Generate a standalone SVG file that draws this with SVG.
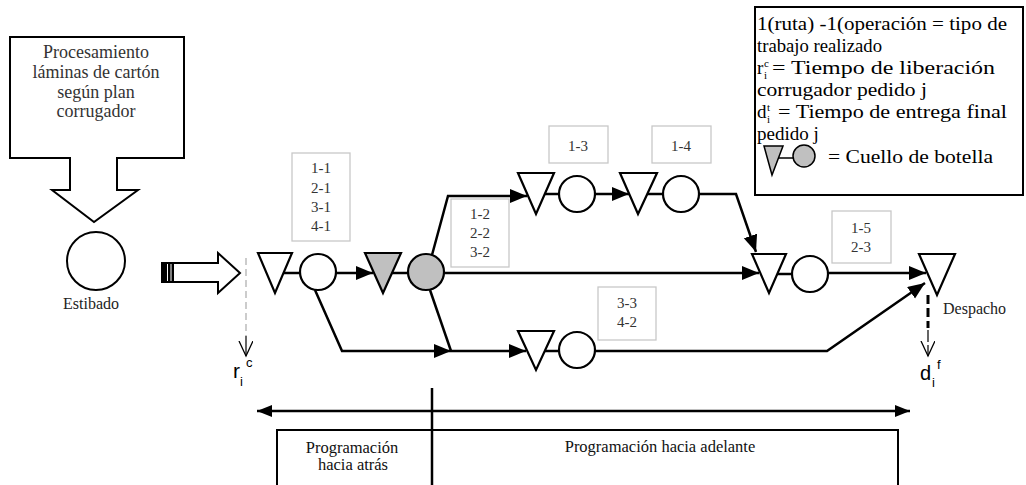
<svg xmlns="http://www.w3.org/2000/svg" width="1026" height="485" viewBox="0 0 1026 485">
  <defs>
    <marker id="ah" markerUnits="userSpaceOnUse" markerWidth="18" markerHeight="16" refX="17" refY="7" orient="auto">
      <path d="M0,0 L17,7 L0,14 z" fill="#000"/>
    </marker>
    <marker id="ahs" markerUnits="userSpaceOnUse" markerWidth="16" markerHeight="14" refX="15" refY="6" orient="auto-start-reverse">
      <path d="M0,0 L15,6 L0,12 z" fill="#000"/>
    </marker>
    <marker id="vopen" markerUnits="userSpaceOnUse" markerWidth="18" markerHeight="18" refX="15" refY="7" orient="auto">
      <path d="M0,0 L15,7 L0,14" fill="none" stroke="#000" stroke-width="1.3"/>
    </marker>
  </defs>
  <style>
    .n{fill:#fff;stroke:#000;stroke-width:2.2}
    .bn{fill:#c0c0c0;stroke:#000;stroke-width:2.2}
    .lbl{fill:#fff;stroke:#c8c8c8;stroke-width:1.3}
    .serif{font-family:"Liberation Serif","Times New Roman",serif}
    .t{font-size:15px;fill:#333;text-anchor:middle}
    .big{font-size:18px;fill:#333;text-anchor:middle}
    .lg{font-size:19px;fill:#000}
    .ls{font-size:11px;fill:#000}
    .sm{font-size:16px;fill:#222}
    .bt{font-size:16.5px;fill:#111;text-anchor:middle}
    .sans{font-family:"Liberation Sans",Arial,sans-serif;fill:#000}
    .c{fill:none;stroke:#000;stroke-width:2.5}
  </style>
  <rect width="1026" height="485" fill="#fff"/>

  <!-- corrugator block with downward arrow -->
  <g id="corrugador">
    <path d="M10,37 H184 V158 H117 V190 H138 L94,222 L52,190 H70 V158 H10 Z" fill="#fff" stroke="#000" stroke-width="2"/>
    <text class="serif big" x="96" y="58">Procesamiento</text>
    <text class="serif big" x="96" y="78">láminas de cartón</text>
    <text class="serif big" x="96" y="98">según plan</text>
    <text class="serif big" x="96" y="117">corrugador</text>
  </g>

  <!-- stacking station -->
  <g id="estibado">
    <circle cx="96" cy="261" r="29" fill="#fff" stroke="#000" stroke-width="2"/>
    <text class="serif sm" x="91" y="309" text-anchor="middle">Estibado</text>
  </g>

  <!-- hollow transfer arrow -->
  <g id="transfer">
    <path d="M162,263 H218 V253 L240,273 L218,293 V282 H162 Z" fill="#fff" stroke="#000" stroke-width="2"/>
    <rect x="162" y="263" width="12" height="19" fill="#000"/>
    <line x1="167.5" y1="264" x2="167.5" y2="281" stroke="#fff" stroke-width="1"/>
    <line x1="171" y1="264" x2="171" y2="281" stroke="#fff" stroke-width="1"/>
  </g>

  <!-- release time marker -->
  <g id="release">
    <line x1="246" y1="258" x2="246" y2="336" stroke="#999" stroke-width="1" stroke-dasharray="7,4"/>
    <line x1="246" y1="336" x2="246" y2="356" stroke="#000" stroke-width="1.2" marker-end="url(#vopen)"/>
    <text class="sans" font-size="21" x="233" y="378">r</text>
    <text class="sans" font-size="13" x="240" y="386">i</text>
    <text class="sans" font-size="13" x="246" y="367">c</text>
  </g>

  <!-- connectors -->
  <g id="connectors">
    <line class="c" x1="284" y1="273" x2="300" y2="273"/>
    <line class="c" x1="336" y1="273" x2="373" y2="273" marker-end="url(#ah)"/>
    <line class="c" x1="392" y1="273" x2="408" y2="273"/>
    <line class="c" x1="444" y1="273" x2="759" y2="273" marker-end="url(#ah)"/>
    <polyline class="c" points="432,255 448,196 527,196" marker-end="url(#ah)"/>
    <line class="c" x1="545" y1="194" x2="559" y2="194"/>
    <line class="c" x1="595" y1="194" x2="629" y2="194" marker-end="url(#ah)"/>
    <line class="c" x1="647" y1="194" x2="663" y2="194"/>
    <polyline class="c" points="699,194 736,194 756,252" marker-end="url(#ah)"/>
    <polyline class="c" points="315,290 342,351 451,351" marker-end="url(#ah)"/>
    <line class="c" x1="430" y1="290" x2="451" y2="351"/>
    <line class="c" x1="451" y1="351" x2="526" y2="351" marker-end="url(#ah)"/>
    <line class="c" x1="545" y1="351" x2="559" y2="351"/>
    <polyline class="c" points="595,351 827,351 925,283" marker-end="url(#ah)"/>
    <line class="c" x1="777" y1="274" x2="792" y2="274"/>
    <line class="c" x1="828" y1="273" x2="926" y2="273" marker-end="url(#ah)"/>
  </g>

  <!-- route entry: queue + operation -->
  <g id="op-1-1">
    <rect class="lbl" x="292" y="153" width="58" height="88"/>
    <text class="serif t" x="321" y="173">1-1</text>
    <text class="serif t" x="321" y="193">2-1</text>
    <text class="serif t" x="321" y="212">3-1</text>
    <text class="serif t" x="321" y="231">4-1</text>
    <polygon class="n" points="258,253 292,253 275,293"/>
    <circle class="n" cx="318" cy="272" r="18"/>
  </g>

  <!-- bottleneck -->
  <g id="bottleneck">
    <polygon class="bn" points="365,253 401,253 383,293"/>
    <circle class="bn" cx="426" cy="272" r="18"/>
    <rect class="lbl" x="451" y="199" width="58" height="68"/>
    <text class="serif t" x="480" y="219">1-2</text>
    <text class="serif t" x="480" y="238">2-2</text>
    <text class="serif t" x="480" y="257">3-2</text>
  </g>

  <g id="op-1-3">
    <rect class="lbl" x="549" y="126" width="59" height="37"/>
    <text class="serif t" x="578" y="151">1-3</text>
    <polygon class="n" points="518,173 554,173 536,214"/>
    <circle class="n" cx="577" cy="194" r="18"/>
  </g>

  <g id="op-1-4">
    <rect class="lbl" x="652" y="126" width="59" height="37"/>
    <text class="serif t" x="681" y="151">1-4</text>
    <polygon class="n" points="620,173 657,173 638,214"/>
    <circle class="n" cx="681" cy="194" r="18"/>
  </g>

  <g id="op-3-3">
    <rect class="lbl" x="598" y="287" width="58" height="53"/>
    <text class="serif t" x="627" y="308">3-3</text>
    <text class="serif t" x="627" y="327">4-2</text>
    <polygon class="n" points="518,331 554,331 536,370"/>
    <circle class="n" cx="577" cy="350" r="18"/>
  </g>

  <g id="op-1-5">
    <rect class="lbl" x="832" y="211" width="59" height="52"/>
    <text class="serif t" x="861" y="233">1-5</text>
    <text class="serif t" x="861" y="252">2-3</text>
    <polygon class="n" points="752,254 786,254 769,293"/>
    <circle class="n" cx="810" cy="274" r="18"/>
  </g>

  <!-- dispatch -->
  <g id="despacho">
    <polygon class="n" points="919,254 955,254 937,295"/>
    <text class="serif sm" x="943" y="314" font-size="16.5">Despacho</text>
    <line x1="928" y1="295" x2="928" y2="328" stroke="#000" stroke-width="3" stroke-dasharray="9,4"/>
    <line x1="928" y1="330" x2="928" y2="356" stroke="#000" stroke-width="1.2" stroke-dasharray="12,3" marker-end="url(#vopen)"/>
    <text class="sans" font-size="20" x="920" y="380">d</text>
    <text class="sans" font-size="13" x="932" y="387">i</text>
    <text class="sans" font-size="13" x="937" y="369">f</text>
  </g>

  <!-- legend -->
  <g id="legend">
    <rect x="755" y="7" width="268" height="188" fill="#fff" stroke="#000" stroke-width="2"/>
    <text class="serif lg" x="757" y="30" textLength="250" lengthAdjust="spacingAndGlyphs">1(ruta) -1(operación = tipo de</text>
    <text class="serif lg" x="757" y="52" textLength="125" lengthAdjust="spacingAndGlyphs">trabajo realizado</text>
    <text class="serif lg" x="757" y="74">r</text>
    <text class="serif ls" x="764" y="67">c</text>
    <text class="serif ls" x="764" y="79">i</text>
    <text class="serif lg" x="772" y="74" textLength="223" lengthAdjust="spacingAndGlyphs">= Tiempo de liberación</text>
    <text class="serif lg" x="757" y="96" textLength="170" lengthAdjust="spacingAndGlyphs">corrugador pedido j</text>
    <text class="serif lg" x="757" y="118">d</text>
    <text class="serif ls" x="767" y="111">t</text>
    <text class="serif ls" x="767" y="123">i</text>
    <text class="serif lg" x="778" y="118" textLength="229" lengthAdjust="spacingAndGlyphs">= Tiempo de entrega final</text>
    <text class="serif lg" x="757" y="140">pedido j</text>
    <polygon points="764,146 783,146 772,175" fill="#c0c0c0" stroke="#000" stroke-width="1.5"/>
    <line x1="778" y1="158" x2="793" y2="158" stroke="#000" stroke-width="1.5"/>
    <circle cx="804" cy="156" r="11" fill="#c0c0c0" stroke="#000" stroke-width="1.5"/>
    <text class="serif lg" x="828" y="163" textLength="165" lengthAdjust="spacingAndGlyphs">= Cuello de botella</text>
  </g>

  <!-- scheduling horizon -->
  <g id="horizonte">
    <line x1="257" y1="411" x2="910" y2="411" stroke="#000" stroke-width="2.5" marker-start="url(#ahs)" marker-end="url(#ahs)"/>
    <rect x="277" y="430" width="621" height="60" fill="#fff" stroke="#000" stroke-width="2"/>
    <line x1="432" y1="388" x2="432" y2="485" stroke="#000" stroke-width="2.5"/>
    <text class="serif bt" x="352" y="453">Programación</text>
    <text class="serif bt" x="353" y="470">hacia atrás</text>
    <text class="serif bt" x="660" y="452">Programación hacia adelante</text>
  </g>
</svg>
